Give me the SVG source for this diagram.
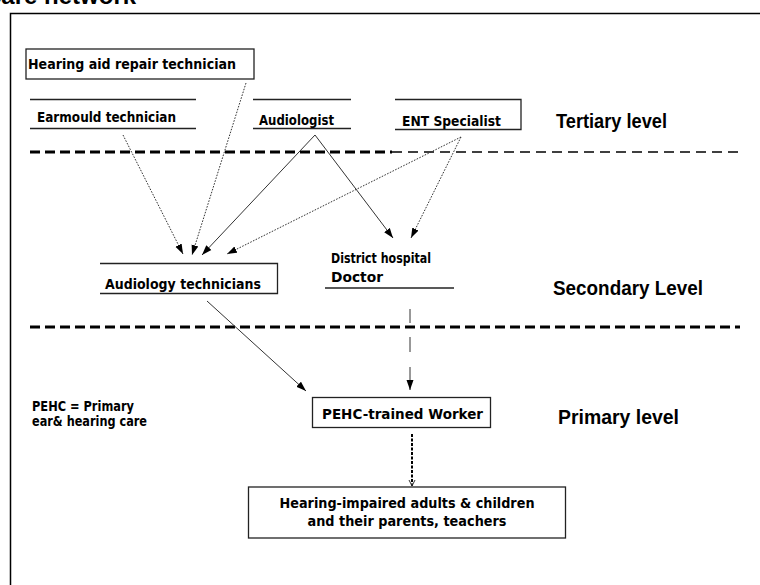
<svg xmlns="http://www.w3.org/2000/svg" width="760" height="585" viewBox="0 0 760 585">
<style>
.box{fill:none;stroke:#222;stroke-width:1.3}
.t{font-family:"DejaVu Sans","Liberation Sans",sans-serif;font-weight:bold;fill:#000;font-size:14px}
.lvl{font-family:"Liberation Sans",Arial,sans-serif;font-weight:bold;fill:#000;font-size:19.5px}
.solid{fill:none;stroke:#333;stroke-width:1}
.dot{fill:none;stroke:#333;stroke-width:1;stroke-dasharray:1.6 1.4}
</style>
<defs>
<marker id="ah" markerUnits="userSpaceOnUse" markerWidth="10" markerHeight="8" viewBox="0 0 10 8" refX="10" refY="4" orient="auto">
<path d="M0,0.5 L10,4 L0,7.5 Z" fill="#000"/>
</marker>
<marker id="open" markerUnits="userSpaceOnUse" markerWidth="8" markerHeight="8" viewBox="0 0 8 8" refX="7" refY="4" orient="auto">
<path d="M1,1 L7,4 L1,7" fill="none" stroke="#333" stroke-width="1"/>
</marker>
</defs>
<rect width="760" height="585" fill="#fff"/>
<text x="-12" y="3.5" font-family="Liberation Sans, Arial, sans-serif" font-weight="bold" font-size="24">care network</text>
<path d="M10.5,600 V13.5 H770" fill="none" stroke="#000" stroke-width="1.5"/>

<g id="dividers">
<path d="M30,152 H392" fill="none" stroke="#000" stroke-width="3" stroke-dasharray="10 5"/>
<path d="M392,152 H740" fill="none" stroke="#000" stroke-width="1.5" stroke-dasharray="10 6"/>
<path d="M30,327 H740" fill="none" stroke="#000" stroke-width="3" stroke-dasharray="10 5"/>
</g>

<g id="levels">
<text class="lvl" x="556" y="128" textLength="111" lengthAdjust="spacingAndGlyphs">Tertiary level</text>
<text class="lvl" x="553" y="295" textLength="150" lengthAdjust="spacingAndGlyphs">Secondary Level</text>
<text class="lvl" x="558" y="424" textLength="121" lengthAdjust="spacingAndGlyphs">Primary level</text>
</g>

<g id="legend">
<text class="t" x="32" y="411" font-size="12" textLength="102" lengthAdjust="spacingAndGlyphs">PEHC = Primary</text>
<text class="t" x="32" y="426" font-size="12" textLength="115" lengthAdjust="spacingAndGlyphs">ear&amp; hearing care</text>
</g>

<g id="hearing-aid-repair">
<rect class="box" x="26" y="49" width="228" height="30"/>
<text class="t" x="28" y="69" font-size="13.5" textLength="208" lengthAdjust="spacingAndGlyphs">Hearing aid repair technician</text>
</g>
<g id="earmould">
<path class="box" d="M30,99.5 H196 M30,128.5 H196"/>
<text class="t" x="37" y="122" textLength="139" lengthAdjust="spacingAndGlyphs">Earmould technician</text>
</g>
<g id="audiologist">
<path class="box" d="M253,99.5 H351 M253,128.5 H351"/>
<text class="t" x="259" y="125" textLength="75" lengthAdjust="spacingAndGlyphs">Audiologist</text>
</g>
<g id="ent">
<path class="box" d="M395,99.5 H521 V129.5 H395"/>
<text class="t" x="402" y="126" textLength="99" lengthAdjust="spacingAndGlyphs">ENT Specialist</text>
</g>
<g id="audiology-technicians">
<path class="box" d="M100,263.5 H277.5 V293.5 H100"/>
<text class="t" x="105" y="289" textLength="156" lengthAdjust="spacingAndGlyphs">Audiology technicians</text>
</g>
<g id="district-doctor">
<path class="box" d="M325,288 H454"/>
<text class="t" x="331" y="263" textLength="100" lengthAdjust="spacingAndGlyphs">District hospital</text>
<text class="t" x="331" y="282" textLength="52" lengthAdjust="spacingAndGlyphs">Doctor</text>
</g>
<g id="pehc-worker">
<rect class="box" x="312.5" y="397.5" width="178" height="30"/>
<text class="t" x="322" y="419" font-size="14.5" textLength="161" lengthAdjust="spacingAndGlyphs">PEHC-trained Worker</text>
</g>
<g id="hearing-impaired">
<rect class="box" x="248.5" y="487" width="317" height="51"/>
<text class="t" x="279.5" y="507.5" font-size="14.5" textLength="255" lengthAdjust="spacingAndGlyphs">Hearing-impaired adults &amp; children</text>
<text class="t" x="307.5" y="526" font-size="14.5" textLength="199" lengthAdjust="spacingAndGlyphs">and their parents, teachers</text>
</g>

<g id="connectors">
<path class="dot" d="M123,135 L183,254" marker-end="url(#ah)"/>
<path class="dot" d="M246,83 L192,255" marker-end="url(#ah)"/>
<path class="solid" d="M315,135 L202,255" marker-end="url(#ah)"/>
<path class="solid" d="M315,135 L393,238" marker-end="url(#ah)"/>
<path class="dot" d="M461,137 L227,254" marker-end="url(#ah)"/>
<path class="dot" d="M461,137 L411,238" marker-end="url(#ah)"/>
<path class="solid" d="M207,301 L306,391" marker-end="url(#ah)"/>
<path class="solid" d="M410,309 V323 M410,337 V352 M410,367 V390" marker-end="url(#ah)"/>
<path fill="none" stroke="#000" stroke-width="2" stroke-dasharray="3 1.5" d="M412,434 V486" marker-end="url(#open)"/>
</g>
</svg>
